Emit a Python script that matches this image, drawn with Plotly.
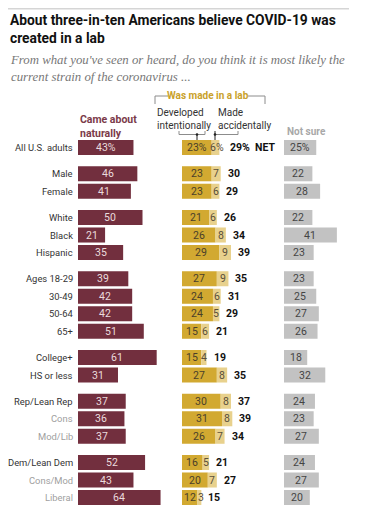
import plotly.graph_objects as go

# ---------------- data ----------------
groups = [
    ["All U.S. adults"],
    ["Male", "Female"],
    ["White", "Black", "Hispanic"],
    ["Ages 18-29", "30-49", "50-64", "65+"],
    ["College+", "HS or less"],
    ["Rep/Lean Rep", "Cons", "Mod/Lib"],
    ["Dem/Lean Dem", "Cons/Mod", "Liberal"],
]
subgroups = ["Cons", "Mod/Lib", "Cons/Mod", "Liberal"]
natural = [43, 46, 41, 50, 21, 35, 39, 42, 42, 51, 61, 31, 37, 36, 37, 52, 43, 64]
intentional = [23, 23, 23, 21, 26, 29, 27, 24, 24, 15, 15, 27, 30, 31, 26, 16, 20, 12]
accidental = [6, 7, 6, 6, 8, 9, 9, 6, 5, 6, 4, 8, 8, 8, 7, 5, 7, 3]
net = [29, 30, 29, 26, 34, 39, 35, 31, 29, 21, 19, 35, 37, 39, 34, 21, 27, 15]
not_sure = [25, 22, 28, 22, 41, 23, 23, 25, 27, 26, 18, 32, 24, 23, 27, 24, 27, 20]

title = "About three-in-ten Americans believe COVID-19 was<br>created in a lab"
subtitle = ("From what you've seen or heard, do you think it is most likely the<br>"
            "current strain of the coronavirus ...")

# ---------------- layout helpers ----------------
PAGE_W, PAGE_H = 377, 515
OFF = 8                      # default body margin of the html page
W, H = PAGE_W - 2 * OFF, PAGE_H - 2 * OFF
labels, ypos = [], []
p = 0.0
for gi, g in enumerate(groups):
    if gi > 0:
        p += 0.5
    for lab in g:
        labels.append(lab)
        ypos.append(p)
        p += 1
n = len(labels)

ROW_PX = 17.5
Y0_PX = 147.5
PPU = 1.29  # pixels per percentage point


def px(x):
    return (x - OFF) / W


def py(y):
    return 1 - (y - OFF) / H


y_top = -(Y0_PX - OFF) / ROW_PX
y_bot = (OFF + H - Y0_PX) / ROW_PX

C_NAT = "#722f3e"
C_INT = "#d2a931"
C_ACC = "#e8d18d"
C_NS = "#c2c2c2"
FONT = "Roboto"
FS = 10.5

fig = go.Figure()

fig.add_trace(go.Bar(y=ypos, x=natural, orientation="h", marker=dict(color=C_NAT, line_width=0),
                     width=0.86, xaxis="x", yaxis="y", hoverinfo="skip"))
fig.add_trace(go.Bar(y=ypos, x=intentional, orientation="h", marker=dict(color=C_INT, line_width=0),
                     width=0.86, xaxis="x2", yaxis="y", hoverinfo="skip"))
fig.add_trace(go.Bar(y=ypos, x=accidental, base=intentional, orientation="h",
                     marker=dict(color=C_ACC, line_width=0),
                     width=0.86, xaxis="x2", yaxis="y", hoverinfo="skip"))
fig.add_trace(go.Bar(y=ypos, x=not_sure, orientation="h", marker=dict(color=C_NS, line_width=0),
                     width=0.86, xaxis="x3", yaxis="y", hoverinfo="skip"))

ann = []
for i in range(n):
    suf = "%" if i == 0 else ""
    # category labels
    ann.append(dict(xref="paper", yref="y", x=px(75), y=ypos[i], text=labels[i],
                    xanchor="right", yanchor="middle", showarrow=False,
                    font=dict(family=FONT, size=9.4,
                              color="#a0a0a0" if labels[i] in subgroups else "#333333")))
    ann.append(dict(xref="x", yref="y", x=natural[i] / 2, y=ypos[i], text=f"{natural[i]}{suf}",
                    showarrow=False, font=dict(family=FONT, size=FS, color="#eadbdd")))
    ann.append(dict(xref="x2", yref="y", x=intentional[i] / 2 + (0.2 if i == 0 else 0), y=ypos[i],
                    text=f"{intentional[i]}{suf}", showarrow=False,
                    font=dict(family=FONT, size=FS, color="#4a3f2a")))
    ax = intentional[i] + accidental[i] / 2
    if i == 0:
        ax += 1.4
    elif accidental[i] <= 3:
        ax = intentional[i] + accidental[i]
    ann.append(dict(xref="x2", yref="y", x=ax,
                    y=ypos[i], text=f"{accidental[i]}{suf}", showarrow=False,
                    font=dict(family=FONT, size=FS, color="#5a4f3a")))
    ann.append(dict(xref="x2", yref="y", x=intentional[i] + accidental[i], y=ypos[i],
                    text=f"<b>{net[i]}{suf}</b>" + ("&nbsp;&nbsp;<b>NET</b>" if i == 0 else ""),
                    xanchor="left", xshift=(9 if i == 0 else 5), showarrow=False,
                    font=dict(family=FONT, size=FS, color="#111111")))
    ann.append(dict(xref="x3", yref="y", x=not_sure[i] / 2, y=ypos[i], text=f"{not_sure[i]}{suf}",
                    showarrow=False, font=dict(family=FONT, size=FS, color="#444444")))

# titles
ann.append(dict(xref="paper", yref="paper", x=px(8), y=py(10), text=f"<b>{title}</b>",
                xanchor="left", yanchor="top", align="left", showarrow=False,
                font=dict(family=FONT, size=13.8, color="#111111")))
ann.append(dict(xref="paper", yref="paper", x=px(8), y=py(51), text=f"<i>{subtitle}</i>",
                xanchor="left", yanchor="top", align="left", showarrow=False,
                font=dict(family="Liberation Serif", size=12.8, color="#777777")))
# legend headers
ann.append(dict(xref="paper", yref="paper", x=px(78), y=py(126), text="<b>Came about<br>naturally</b>",
                xanchor="left", yanchor="middle", align="left", showarrow=False,
                font=dict(family=FONT, size=10.5, color="#7b3a49")))
ann.append(dict(xref="paper", yref="paper", x=px(285), y=py(131.5), text="<b>Not sure</b>",
                xanchor="left", yanchor="middle", align="left", showarrow=False,
                font=dict(family=FONT, size=10, color="#a8a8a8")))
ann.append(dict(xref="paper", yref="paper", x=px(208), y=py(96), text="<b>Was made in a lab</b>",
                xanchor="center", yanchor="middle", showarrow=False,
                font=dict(family=FONT, size=10, color="#c9a12a")))
ann.append(dict(xref="paper", yref="paper", x=px(155), y=py(119), text="Developed<br>intentionally",
                xanchor="left", yanchor="middle", align="left", showarrow=False,
                font=dict(family=FONT, size=10, color="#333333")))
ann.append(dict(xref="paper", yref="paper", x=px(216), y=py(118.5), text="Made<br>accidentally",
                xanchor="left", yanchor="middle", align="left", showarrow=False,
                font=dict(family=FONT, size=10, color="#333333")))

LC = "#8c8c8c"
shapes = []


def seg(x0, y0, x1, y1, color=LC, w=1):
    shapes.append(dict(type="line", xref="paper", yref="paper", x0=px(x0), y0=py(y0),
                       x1=px(x1), y1=py(y1), line=dict(color=color, width=w)))


# top rule
seg(OFF, OFF + 0.8, 349, OFF + 0.8, color="#d5d5d5", w=1.5)
# lab bracket
seg(155, 96, 168, 96)
seg(248, 96, 265, 96)
seg(155, 96, 155, 104)
seg(265, 96, 265, 104)
# developed bracket
seg(179, 131, 179, 134.5)
seg(179, 134.5, 205, 134.5)
seg(205, 134.5, 205, 131)
seg(197, 134.5, 197, 140, color="#222222")
# accidental bracket
seg(215, 134.5, 238, 134.5)
seg(238, 134.5, 238, 131)
seg(215, 131, 215, 140, color="#222222")
for xd in (197, 215):
    shapes.append(dict(type="circle", xref="paper", yref="paper",
                       x0=px(xd - 1.3), x1=px(xd + 1.3), y0=py(134.5 - 1.3), y1=py(134.5 + 1.3),
                       fillcolor="#222222", line_width=0))


def xdom(x0_px, x1_px):
    return dict(domain=[px(x0_px), px(x1_px)], range=[0, (x1_px - x0_px) / PPU],
                visible=False, fixedrange=True)


fig.update_layout(
    width=W, height=H,
    margin=dict(l=0, r=0, t=0, b=0),
    paper_bgcolor="white", plot_bgcolor="rgba(0,0,0,0)",
    showlegend=False, barmode="overlay",
    xaxis=xdom(78, 175),
    xaxis2=xdom(182, 280),
    xaxis3=xdom(284, OFF + W),
    yaxis=dict(domain=[0, 1], range=[y_bot, y_top], visible=False, fixedrange=True),
    annotations=ann, shapes=shapes,
)

fig.write_html("out.html")
